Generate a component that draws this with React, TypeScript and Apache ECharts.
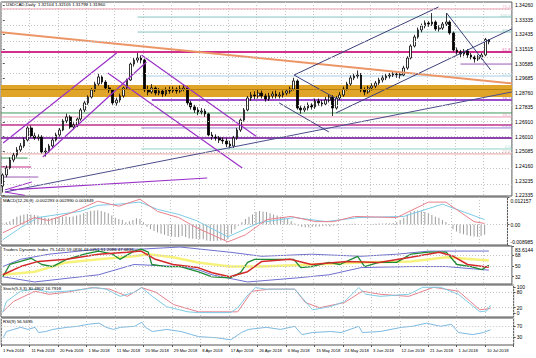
import React, { useEffect, useRef } from 'react';
import * as echarts from 'echarts';

// ---------- data ----------
const dateLabels = ['1 Feb 2018', '11 Feb 2018', '20 Feb 2018', '1 Mar 2018', '11 Mar 2018', '20 Mar 2018', '29 Mar 2018', '8 Apr 2018', '17 Apr 2018', '26 Apr 2018', '6 May 2018', '15 May 2018', '24 May 2018', '3 Jun 2018', '12 Jun 2018', '21 Jun 2018', '1 Jul 2018', '10 Jul 2018'];
const LABEL_STEP = 8; // bars between date labels
const SLOTS = 144; // bar slots incl. chart shift

// [open, close, low, high]
const candles: number[][] = [
  [1.2290, 1.2360, 1.2250, 1.2370], [1.2360, 1.2404, 1.2345, 1.2420], [1.2404, 1.2454, 1.2395, 1.2470], [1.2454, 1.2485, 1.2440, 1.2500],
  [1.2485, 1.2517, 1.2470, 1.2535], [1.2517, 1.2542, 1.2505, 1.2560], [1.2542, 1.2579, 1.2530, 1.2595], [1.2579, 1.2655, 1.2570, 1.2665],
  [1.2655, 1.2605, 1.2595, 1.2670], [1.2605, 1.2592, 1.2580, 1.2625], [1.2592, 1.2598, 1.2575, 1.2615], [1.2598, 1.2504, 1.2495, 1.2610],
  [1.2504, 1.2510, 1.2475, 1.2530], [1.2510, 1.2542, 1.2500, 1.2555], [1.2542, 1.2579, 1.2530, 1.2590], [1.2579, 1.2611, 1.2570, 1.2625],
  [1.2611, 1.2642, 1.2600, 1.2655], [1.2642, 1.2699, 1.2635, 1.2710], [1.2699, 1.2724, 1.2685, 1.2745], [1.2724, 1.2661, 1.2650, 1.2735],
  [1.2661, 1.2674, 1.2645, 1.2690], [1.2674, 1.2711, 1.2660, 1.2720], [1.2711, 1.2768, 1.2700, 1.2780], [1.2768, 1.2812, 1.2755, 1.2825],
  [1.2812, 1.2849, 1.2800, 1.2860], [1.2849, 1.2893, 1.2840, 1.2905], [1.2893, 1.2931, 1.2880, 1.2945], [1.2931, 1.2975, 1.2920, 1.2995],
  [1.2975, 1.2943, 1.2930, 1.2985], [1.2943, 1.2906, 1.2895, 1.2955], [1.2906, 1.2893, 1.2875, 1.2925], [1.2893, 1.2812, 1.2800, 1.2900],
  [1.2812, 1.2830, 1.2795, 1.2845], [1.2830, 1.2856, 1.2815, 1.2870], [1.2856, 1.2906, 1.2845, 1.2915], [1.2906, 1.2956, 1.2895, 1.2965],
  [1.2956, 1.3056, 1.2950, 1.3065], [1.3056, 1.3081, 1.3040, 1.3095], [1.3081, 1.3094, 1.3065, 1.3125], [1.3094, 1.3081, 1.3060, 1.3110],
  [1.3081, 1.2893, 1.2880, 1.3090], [1.2893, 1.2881, 1.2860, 1.2920], [1.2881, 1.2906, 1.2870, 1.2930], [1.2906, 1.2874, 1.2860, 1.2915],
  [1.2874, 1.2887, 1.2860, 1.2905], [1.2887, 1.2868, 1.2850, 1.2900], [1.2868, 1.2893, 1.2855, 1.2910], [1.2893, 1.2887, 1.2870, 1.2915],
  [1.2887, 1.2899, 1.2875, 1.2915], [1.2899, 1.2887, 1.2870, 1.2910], [1.2887, 1.2899, 1.2875, 1.2920], [1.2899, 1.2906, 1.2885, 1.2925],
  [1.2906, 1.2812, 1.2800, 1.2915], [1.2812, 1.2787, 1.2770, 1.2825], [1.2787, 1.2768, 1.2750, 1.2800], [1.2768, 1.2755, 1.2735, 1.2785],
  [1.2755, 1.2761, 1.2740, 1.2780], [1.2761, 1.2743, 1.2725, 1.2775], [1.2743, 1.2611, 1.2600, 1.2750], [1.2611, 1.2598, 1.2580, 1.2630],
  [1.2598, 1.2592, 1.2575, 1.2615], [1.2592, 1.2579, 1.2560, 1.2605], [1.2579, 1.2573, 1.2555, 1.2595], [1.2573, 1.2554, 1.2535, 1.2590],
  [1.2554, 1.2542, 1.2527, 1.2575], [1.2542, 1.2592, 1.2530, 1.2605], [1.2592, 1.2642, 1.2580, 1.2655], [1.2642, 1.2705, 1.2630, 1.2715],
  [1.2705, 1.2768, 1.2695, 1.2780], [1.2768, 1.2843, 1.2760, 1.2855], [1.2843, 1.2862, 1.2825, 1.2880], [1.2862, 1.2856, 1.2835, 1.2885],
  [1.2856, 1.2874, 1.2840, 1.2895], [1.2874, 1.2856, 1.2840, 1.2890], [1.2856, 1.2837, 1.2820, 1.2870], [1.2837, 1.2856, 1.2825, 1.2875],
  [1.2856, 1.2868, 1.2840, 1.2885], [1.2868, 1.2856, 1.2840, 1.2890], [1.2856, 1.2862, 1.2840, 1.2880], [1.2862, 1.2874, 1.2845, 1.2890],
  [1.2874, 1.2887, 1.2860, 1.2900], [1.2887, 1.2899, 1.2870, 1.2915], [1.2899, 1.2950, 1.2890, 1.2970], [1.2950, 1.2780, 1.2770, 1.2960],
  [1.2780, 1.2768, 1.2745, 1.2795], [1.2768, 1.2780, 1.2755, 1.2800], [1.2780, 1.2799, 1.2765, 1.2815], [1.2799, 1.2787, 1.2770, 1.2810],
  [1.2787, 1.2824, 1.2775, 1.2840], [1.2824, 1.2812, 1.2795, 1.2840], [1.2812, 1.2805, 1.2790, 1.2830], [1.2805, 1.2830, 1.2795, 1.2850],
  [1.2830, 1.2849, 1.2815, 1.2865], [1.2849, 1.2780, 1.2730, 1.2860], [1.2780, 1.2843, 1.2770, 1.2855], [1.2843, 1.2862, 1.2830, 1.2880],
  [1.2862, 1.2899, 1.2850, 1.2915], [1.2899, 1.2931, 1.2890, 1.2945], [1.2931, 1.2969, 1.2920, 1.2985], [1.2969, 1.2981, 1.2955, 1.2995],
  [1.2981, 1.2987, 1.2965, 1.3016], [1.2987, 1.2893, 1.2880, 1.3000], [1.2893, 1.2881, 1.2860, 1.2910], [1.2881, 1.2906, 1.2870, 1.2920],
  [1.2906, 1.2918, 1.2890, 1.2935], [1.2918, 1.2937, 1.2905, 1.2950], [1.2937, 1.2956, 1.2925, 1.2970], [1.2956, 1.2969, 1.2940, 1.2985],
  [1.2969, 1.2981, 1.2955, 1.2995], [1.2981, 1.2987, 1.2965, 1.3000], [1.2987, 1.2994, 1.2975, 1.3010], [1.2994, 1.2990, 1.2970, 1.3010],
  [1.2990, 1.2987, 1.2965, 1.3005], [1.2987, 1.3031, 1.2980, 1.3045], [1.3031, 1.3094, 1.3020, 1.3105], [1.3094, 1.3169, 1.3085, 1.3180],
  [1.3169, 1.3226, 1.3160, 1.3240], [1.3226, 1.3270, 1.3215, 1.3285], [1.3270, 1.3295, 1.3255, 1.3310], [1.3295, 1.3314, 1.3280, 1.3330],
  [1.3314, 1.3307, 1.3290, 1.3325], [1.3307, 1.3320, 1.3295, 1.3376], [1.3320, 1.3276, 1.3265, 1.3330], [1.3276, 1.3282, 1.3260, 1.3300],
  [1.3282, 1.3307, 1.3270, 1.3320], [1.3307, 1.3320, 1.3295, 1.3376], [1.3320, 1.3251, 1.3240, 1.3330], [1.3251, 1.3144, 1.3135, 1.3260],
  [1.3144, 1.3132, 1.3115, 1.3160], [1.3132, 1.3119, 1.3100, 1.3145], [1.3119, 1.3138, 1.3105, 1.3150], [1.3138, 1.3113, 1.3095, 1.3150],
  [1.3113, 1.3100, 1.3085, 1.3125], [1.3100, 1.3088, 1.3065, 1.3110], [1.3088, 1.3100, 1.3075, 1.3115], [1.3100, 1.3113, 1.3085, 1.3125],
  [1.3113, 1.3210, 1.3105, 1.3220], [1.32104, 1.31960, 1.31799, 1.32105],
];

const priceTicks = [1.34260, 1.33335, 1.32435, 1.31515, 1.30585, 1.29685, 1.28760, 1.27835, 1.26910, 1.26010, 1.25085, 1.24160, 1.23235, 1.22335];
const priceMin = 1.22279;
const priceMax = 1.34455;

// horizontal levels: price, first bar, last bar, fib label
const levelPrices = [1.3402, 1.3351, 1.3257, 1.3132, 1.3056, 1.2981, 1.2830, 1.2749, 1.2724, 1.2674, 1.2655, 1.2592, 1.2523, 1.2492, 1.2466, 1.2410, 1.2347];
const levelFrom = [-0.5, 38, 38, -0.5, 129, 39, 42, -0.5, -0.5, -0.5, 39, -0.5, 39, -0.5, -0.5, -0.5, -0.5];
const levelTo = [143.5, 143.5, 143.5, 143.5, 143.5, 143.5, 143.5, 143.5, 143.5, 143.5, 143.5, 143.5, 143.5, 143.5, 7, 8, 10];
const levelLabels = ['76.4', '100.0', '88.6', '61.8', '', '61.8', '38.2', '', '38.2', '', '23.6', '', '0.0', '23.6', '', '', ''];

const bandTop = 1.2925;
const bandBottom = 1.2849;
const bandMid = 1.2893;

// trend lines: [[bar, price], [bar, price]]
const trendLines: number[][][] = [
  [[-0.5, 1.3256], [143.5, 1.2935]],
  [[0.6, 1.2253], [143.5, 1.2881]],
  [[0.1, 1.2561], [32.1, 1.3125]],
  [[11.3, 1.2473], [40.5, 1.3069]],
  [[39.1, 1.3113], [71.7, 1.2598]],
  [[29.6, 1.3000], [67.5, 1.2404]],
  [[2.0, 1.2266], [57.6, 1.2341]],
  [[0.6, 1.2266], [8.2, 1.2316]],
  [[0.6, 1.2253], [6.2, 1.2232]],
  [[82.1, 1.2987], [94.7, 1.2830]],
  [[77.9, 1.2812], [91.9, 1.2630]],
  [[82.1, 1.2987], [122.8, 1.3414]],
  [[93.9, 1.2749], [143.5, 1.3277]],
  [[125.1, 1.3376], [137.5, 1.3019]],
];

const macdHist = [
  0.0005, 0.001, 0.0015, 0.0025, 0.0035, 0.004, 0.0045, 0.0047, 0.0045, 0.0042,
  0.004, 0.0035, 0.003, 0.0028, 0.0028, 0.003, 0.0032, 0.0035, 0.0036, 0.0033,
  0.0036, 0.004, 0.0045, 0.005, 0.0055, 0.006, 0.0062, 0.0063, 0.006, 0.0055,
  0.005, 0.004, 0.003, 0.0025, 0.002, 0.001, 0.0015, 0.002, 0.0028, 0.0025,
  0.001, -0.001, -0.002, -0.0028, -0.0035, -0.004, -0.0045, -0.005, -0.0052, -0.0055,
  -0.0055, -0.005, -0.0055, -0.006, -0.0062, -0.0063, -0.0064, -0.0065, -0.007, -0.0072,
  -0.0072, -0.0071, -0.007, -0.0068, -0.0065, -0.004, -0.002, -0.0005, 0.001, 0.0025,
  0.0035, 0.0045, 0.0055, 0.006, 0.0058, 0.0055, 0.005, 0.0045, 0.004, 0.0035,
  0.003, 0.0025, 0.0015, 0.0005, -0.0005, -0.001, -0.0012, -0.0012, -0.001, -0.001,
  -0.0008, -0.0006, -0.0005, -0.0008, -0.0005, -0.0003, 0, 0.0002, 0.0002, 0.0003,
  0.0004, 0.0002, 0, 0.0001, 0.0002, 0.0003, 0.0004, 0.0005, 0.0005, 0.0006,
  0.0006, 0.0007, 0.001, 0.002, 0.003, 0.0045, 0.0055, 0.006, 0.0062, 0.006,
  0.0055, 0.005, 0.0042, 0.0035, 0.003, 0.002, 0.0012, 0.0003, -0.002, -0.003,
  -0.0038, -0.0043, -0.0047, -0.005, -0.0052, -0.0053, -0.005, -0.0045,
];
const macdMain = [[0, -0.0036], [9, 0.0031], [13, 0.0018], [19, 0.0049], [27, 0.0103], [33, 0.0081], [39, 0.0112], [44, 0.0058], [50, 0.0031], [55, -0.0013], [64, -0.0076], [69, -0.0045], [75, 0.0022], [82, 0.0036], [89, 0.0013], [94, 0.0013], [100, 0.0036], [112, 0.0031], [121, 0.0099], [126, 0.0099], [134, 0.0013], [137, 0.0005]];
const macdSignal = [[0, -0.0067], [5, -0.0014], [10, 0.0031], [16, 0.0045], [22, 0.0058], [27, 0.0085], [33, 0.009], [39, 0.0099], [44, 0.0067], [50, 0.0045], [55, 0.0018], [64, -0.0054], [73, 0.0009], [83, 0.0031], [92, 0.0013], [101, 0.0031], [114, 0.0036], [125, 0.009], [137, 0.0022]];
const macdTicks = [-0.008985, 0, 0.012157];

const tdiUpper = [[0, 49.0], [5, 61.2], [13, 69.8], [27, 78.4], [39, 78.4], [50, 81.9], [64, 73.2], [73, 66.3], [87, 69.8], [101, 66.3], [111, 69.8], [120, 75.0], [137, 75.1]];
const tdiLower = [[0, 31.8], [9, 23.1], [27, 35.2], [37, 52.5], [50, 49.0], [55, 43.9], [59, 35.2], [69, 23.1], [83, 30.0], [92, 35.2], [101, 47.3], [115, 49.0], [125, 49.0], [137, 43.0]];
const tdiMid = [[0, 35.2], [9, 40.4], [18, 56.0], [27, 61.2], [37, 66.3], [41, 69.8], [48, 64.6], [55, 56.0], [64, 49.0], [73, 49.0], [87, 52.5], [101, 56.0], [115, 57.7], [125, 64.6], [137, 59.1]];
const tdiPrice = [[0, 31.8], [2, 52.5], [5, 57.7], [8, 62.9], [11, 52.5], [14, 49.0], [18, 61.2], [23, 69.8], [27, 75.0], [31, 69.8], [33, 61.2], [37, 75.0], [39, 78.4], [41, 73.2], [42, 52.5], [46, 49.0], [50, 49.0], [53, 43.9], [55, 40.4], [59, 31.8], [64, 30.0], [67, 38.7], [69, 56.0], [71, 61.2], [76, 61.2], [82, 61.2], [84, 47.3], [87, 49.0], [92, 56.0], [95, 52.5], [100, 66.3], [102, 49.0], [106, 56.0], [111, 56.0], [115, 69.8], [120, 73.2], [125, 73.2], [128, 52.5], [132, 49.0], [135, 43.9], [137, 51.2]];
const tdiSignal = [[0, 35.2], [5, 49.0], [10, 57.7], [18, 61.2], [27, 69.8], [35, 73.2], [39, 75.0], [43, 61.2], [48, 52.5], [55, 47.3], [59, 38.7], [64, 31.8], [69, 40.4], [73, 57.7], [81, 61.2], [87, 52.5], [97, 57.7], [106, 56.0], [115, 64.6], [123, 73.2], [127, 66.3], [131, 52.5], [137, 47.7]];
const tdiTicks = [19.672, 32, 50, 68, 83.6144];
const tdiLevels = [32, 50, 68];

const stochMain = [[0, 2], [1, 44], [5, 84], [9, 92], [13, 80], [18, 84], [23, 92], [26, 98], [29, 92], [33, 64], [37, 80], [39, 98], [42, 64], [46, 24], [52, 4], [55, 1], [64, 1], [66, 20], [69, 72], [71, 98], [74, 92], [82, 92], [84, 60], [87, 12], [92, 24], [96, 44], [100, 98], [102, 72], [106, 64], [114, 72], [118, 99], [123, 99], [128, 72], [134, 4], [136, 8], [137, 30]];
const stochSignal = [[0, 4], [3, 44], [9, 84], [13, 72], [18, 80], [25, 98], [30, 92], [35, 64], [39, 98], [43, 80], [48, 32], [55, 4], [66, 4], [70, 84], [75, 92], [82, 92], [85, 40], [89, 20], [96, 40], [101, 84], [106, 72], [114, 64], [121, 99], [128, 84], [134, 12], [137, 17]];
const stochTicks = [0, 20, 80, 100];
const stochLevels = [20, 80];

const rsiLine = [[0, 26.9], [1, 50], [3, 57.7], [5, 65.4], [7, 57.7], [9, 65.4], [10, 46.2], [12, 50], [14, 57.7], [18, 65.4], [21, 69.2], [24, 76.9], [27, 80.8], [29, 65.4], [31, 57.7], [33, 65.4], [37, 69.2], [39, 84.6], [40, 65.4], [42, 50], [46, 57.7], [50, 50], [53, 38.5], [55, 30.8], [60, 26.9], [64, 19.2], [67, 46.2], [69, 57.7], [74, 65.4], [78, 57.7], [82, 69.2], [84, 38.5], [87, 46.2], [92, 50], [95, 46.2], [100, 69.2], [101, 46.2], [106, 50], [112, 65.4], [115, 69.2], [119, 80.8], [123, 69.2], [126, 76.9], [128, 46.2], [132, 38.5], [135, 46.2], [137, 56.57]];
const rsiTicks = [0, 30, 70, 100];
const rsiLevels = [30, 70];

const macdTitle = 'MACD(12,26,9) -0.002293 0.002990 0.001849';
const tdiTitle = 'Traders Dynamic Index 75.1420 59.0836 43.0251 51.2086 47.6836';
const stochTitle = 'Stoch(5,3,3) 30.4802 16.7918';
const rsiTitle = 'RSI(9) 56.5695';

// ---------- styles ----------
const FONT = 'Liberation Sans';
const FS = 5;
const FS_DATE = 4.2;
const FS_TITLE = 4.4;
const BAR_W = 3.56;
const levelStyles = [
  { c: '#f2a0b4', w: 1 }, { c: '#86c5c0', w: 1 }, { c: '#86c5c0', w: 1 }, { c: '#d0308c', w: 2 },
  { c: '#9b59b6', w: 1 }, { c: '#a8cfe6', w: 1 }, { c: '#9b4dca', w: 2 }, { c: '#3f9a5e', w: 1 },
  { c: '#e895b0', w: 1 }, { c: '#c2308a', w: 1.5 }, { c: '#9a7fd6', w: 1 }, { c: '#8e44ad', w: 2 },
  { c: '#8fd4c8', w: 1 }, { c: '#e6a0a0', w: 1 }, { c: '#3f9a5e', w: 1 }, { c: '#c2308a', w: 1 }, { c: '#9b59b6', w: 1 },
];
const trendStyles = [
  { c: '#ec9668', w: 2 }, { c: '#4a4e8a', w: 1 }, { c: '#9b30c8', w: 1.2 }, { c: '#9b30c8', w: 1.2 },
  { c: '#9b30c8', w: 1.2 }, { c: '#9b30c8', w: 1.2 }, { c: '#9b30c8', w: 1.2 }, { c: '#9b30c8', w: 1 },
  { c: '#9b30c8', w: 1 }, { c: '#3b3f7a', w: 1 }, { c: '#3b3f7a', w: 1 }, { c: '#3b3f7a', w: 1 },
  { c: '#3b3f7a', w: 1 }, { c: '#3b3f7a', w: 1 },
];

function buildOption() {
  const W = SLOTS * BAR_W;
  const cats = Array.from({ length: SLOTS }, (_, i) => String(i));
  const isLab = (i: number) => i % LABEL_STEP === 0 && i / LABEL_STEP < dateLabels.length;
  const gridDefs = [
    { top: 2, height: 194 },
    { top: 197, height: 48 },
    { top: 246, height: 38 },
    { top: 285, height: 32 },
    { top: 318, height: 27 },
  ];
  const grid = gridDefs.map((g) => ({ left: 1, width: W, top: g.top, height: g.height, show: true, borderColor: '#555', borderWidth: 1, backgroundColor: '#fff' }));
  const dotted = { color: '#c4c4c4', type: [1, 2] as any, width: 1 };

  const xAxis: any[] = gridDefs.map((_, gi) => ({
    type: 'category', gridIndex: gi, data: cats, boundaryGap: true,
    axisLine: { show: false },
    axisTick: { show: gi === 4, interval: (i: number) => isLab(i), length: 2, lineStyle: { color: '#555' } },
    axisLabel: {
      show: gi === 4, interval: (i: number) => isLab(i), align: 'left', margin: 3,
      fontSize: FS_DATE, fontFamily: FONT, color: '#000',
      formatter: (_v: string, i: number) => dateLabels[i / LABEL_STEP] ?? '',
    },
    splitLine: { show: true, interval: (i: number) => isLab(i), lineStyle: dotted },
  }));
  xAxis.push({ type: 'value', gridIndex: 0, min: -0.5, max: SLOTS - 0.5, show: false });
  const XV = 5;

  const edgeRich = {
    t: { fontSize: FS, fontFamily: FONT, color: '#000', padding: [8, 0, 0, 0] },
    b: { fontSize: FS, fontFamily: FONT, color: '#000', padding: [0, 0, 7, 0] },
  };
  const mkY = (gi: number, min: number, max: number, ticks: number[], fmt: (v: number) => string, pushEdges: boolean) => ({
    type: 'value', gridIndex: gi, position: 'right', min, max,
    splitLine: { show: false }, axisLine: { show: false },
    axisTick: { show: true, length: 2, customValues: ticks, lineStyle: { color: '#555' } },
    axisLabel: {
      customValues: ticks, margin: 3, fontSize: FS, fontFamily: FONT, color: '#000',
      formatter: (v: number) => {
        const s = fmt(v);
        if (!pushEdges) return s;
        if (Math.abs(v - ticks[ticks.length - 1]) < 1e-9) return `{t|${s}}`;
        if (Math.abs(v - ticks[0]) < 1e-9) return `{b|${s}}`;
        return s;
      },
      rich: edgeRich,
    },
  });
  const yAxis = [
    mkY(0, priceMin, priceMax, priceTicks, (v) => v.toFixed(5), false),
    mkY(1, -0.008985, 0.012157, macdTicks, (v) => (Math.abs(v) < 1e-12 ? '0.00' : v.toFixed(6)), true),
    mkY(2, 19.672, 83.6144, tdiTicks, (v) => String(v), true),
    mkY(3, -16, 108, stochTicks, (v) => String(v), false),
    mkY(4, 0, 100, rsiTicks, (v) => String(v), true),
  ];

  const hLineSeries = (xi: number, yi: number, vals: number[], anchorY: number) => ({
    type: 'line', xAxisIndex: xi, yAxisIndex: yi, data: [[0, anchorY]], symbol: 'none', lineStyle: { width: 0 }, silent: true, z: 0,
    markLine: { silent: true, symbol: ['none', 'none'], label: { show: false }, lineStyle: dotted, data: vals.map((v) => ({ yAxis: v })) },
  });

  const series: any[] = [];
  series.push(hLineSeries(XV, 0, priceTicks, priceTicks[0]));
  series.push({
    type: 'line', xAxisIndex: XV, yAxisIndex: 0, data: [[0, bandMid]], symbol: 'none', lineStyle: { width: 0 }, silent: true, z: 1,
    markArea: { silent: true, itemStyle: { color: '#e0a428' }, data: [[{ yAxis: bandTop }, { yAxis: bandBottom }]] },
    markLine: { silent: true, symbol: ['none', 'none'], label: { show: false }, lineStyle: { color: '#b67f10', width: 1, type: 'solid' }, data: [{ yAxis: bandMid }] },
  });
  levelPrices.forEach((p, k) => {
    series.push({
      type: 'line', xAxisIndex: XV, yAxisIndex: 0, silent: true, symbol: 'none', z: 2,
      data: [[levelFrom[k], p], [levelTo[k], p]],
      lineStyle: { color: levelStyles[k].c, width: levelStyles[k].w },
    });
  });
  series.push({
    type: 'scatter', xAxisIndex: XV, yAxisIndex: 0, symbolSize: 0, silent: true, z: 5,
    data: levelPrices.map((p, k) => ({ name: levelLabels[k], value: [SLOTS - 0.9, p], label: { color: levelStyles[k].c } })).filter((d) => d.name),
    label: { show: true, position: 'top', align: 'right', distance: 0, fontSize: 4.2, fontFamily: FONT, formatter: '{b}' },
  });
  const last = candles[candles.length - 1];
  series.push({
    type: 'candlestick', xAxisIndex: 0, yAxisIndex: 0, data: candles, barWidth: 2.2, z: 3,
    itemStyle: { color: '#ffffff', color0: '#000000', borderColor: '#000000', borderColor0: '#000000', borderWidth: 0.8 },
    markLine: {
      silent: true, symbol: ['none', 'none'], lineStyle: { opacity: 0 },
      label: { position: 'end', distance: 2, formatter: last[1].toFixed(5), backgroundColor: '#000', color: '#fff', fontSize: FS, fontFamily: FONT, padding: [1, 1.5, 0, 1.5] },
      data: [{ yAxis: last[1] }],
    },
  });
  trendLines.forEach((pts, k) => {
    series.push({
      type: 'line', xAxisIndex: XV, yAxisIndex: 0, silent: true, symbol: 'none', z: 4,
      data: pts, lineStyle: { color: trendStyles[k].c, width: trendStyles[k].w },
    });
  });

  series.push({
    type: 'bar', xAxisIndex: 1, yAxisIndex: 1, data: macdHist, barWidth: 1, itemStyle: { color: '#9c9c9c' }, silent: true,
    markLine: { silent: true, symbol: ['none', 'none'], label: { show: false }, lineStyle: dotted, data: [{ yAxis: 0 }] },
  });
  const ln = (xi: number, yi: number, data: number[][], color: string, width: number) => ({
    type: 'line', xAxisIndex: xi, yAxisIndex: yi, data, symbol: 'none', silent: true, lineStyle: { color, width },
  });
  series.push(ln(1, 1, macdSignal, '#7ccbe8', 1));
  series.push(ln(1, 1, macdMain, '#e8808c', 1));

  series.push(hLineSeries(2, 2, tdiLevels, 50));
  series.push(ln(2, 2, tdiMid, '#f7f27c', 2.5));
  series.push(ln(2, 2, tdiUpper, '#6f6fd0', 1));
  series.push(ln(2, 2, tdiLower, '#6f6fd0', 1));
  series.push(ln(2, 2, tdiPrice, '#1e8c34', 1.3));
  series.push(ln(2, 2, tdiSignal, '#d42a2a', 1.5));

  series.push(hLineSeries(3, 3, stochLevels, 50));
  series.push(ln(3, 3, stochSignal, '#e6818e', 1));
  series.push(ln(3, 3, stochMain, '#7fcbe4', 1));

  series.push(hLineSeries(4, 4, rsiLevels, 50));
  series.push(ln(4, 4, rsiLine, '#7cb9e0', 1));

  const tStyle = { fontSize: FS_TITLE, fontWeight: 'normal', color: '#000', fontFamily: FONT };
  const mainTitle = `USDCAD,Daily  ${last[0].toFixed(5)} ${last[3].toFixed(5)} ${last[2].toFixed(5)} ${last[1].toFixed(5)}`;
  const title = [
    { text: mainTitle, left: 6, top: 2 },
    { text: macdTitle, left: 3, top: 198 },
    { text: tdiTitle, left: 3, top: 247 },
    { text: stochTitle, left: 3, top: 286 },
    { text: rsiTitle, left: 3, top: 319 },
  ].map((t) => ({ ...t, padding: 0, textStyle: tStyle }));

  return { animation: false, backgroundColor: '#fff', title, grid, xAxis, yAxis, series };
}

export default function App() {
  const ref = useRef<HTMLDivElement>(null);
  useEffect(() => {
    if (!ref.current) return;
    const chart = echarts.init(ref.current, null, { renderer: 'svg' });
    chart.setOption(buildOption() as any);
    return () => chart.dispose();
  }, []);
  return <div ref={ref} style={{ position: 'fixed', left: 0, top: 0, width: 536, height: 358, background: '#fff' }} />;
}
